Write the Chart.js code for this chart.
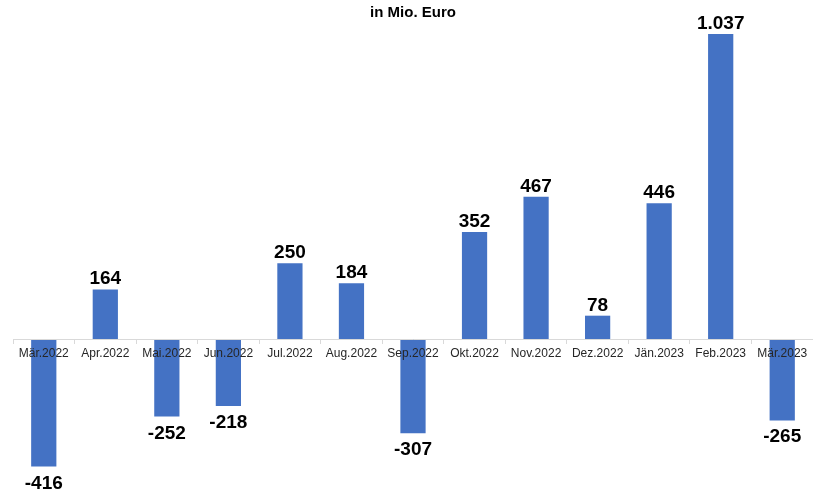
<!DOCTYPE html>
<html lang="de">

<head>
  <meta charset="UTF-8">
  <title>in Mio. Euro</title>
  <script src="https://cdn.jsdelivr.net/npm/chart.js"></script>
  <style>
    body {
      margin: 0;
      background: #fff;
    }

    #chartBox {
      width: 813px;
      height: 489px;
    }
  </style>
</head>

<body>
  <div id="chartBox">
    <canvas id="saldoCanvas"></canvas>
  </div>

  <script>
    const monate = ["Mär.2022", "Apr.2022", "Mai.2022", "Jun.2022", "Jul.2022", "Aug.2022", "Sep.2022",
      "Okt.2022", "Nov.2022", "Dez.2022", "Jän.2023", "Feb.2023", "Mär.2023"];
    const werte = [-416, 164, -252, -218, 250, 184, -307, 352, 467, 78, 446, 1037, -265];
    const titel = "in Mio. Euro";

    // 1037 -> "1.037"
    function formatDe(v) {
      const s = String(Math.abs(v)).replace(/\B(?=(\d{3})+(?!\d))/g, ".");
      return (v < 0 ? "-" : "") + s;
    }

    const wertLabels = {
      id: "wertLabels",
      afterDatasetsDraw(chart) {
        const ctx = chart.ctx;
        const area = chart.chartArea;
        const meta = chart.getDatasetMeta(0);
        ctx.save();
        ctx.font = "bold 19px Arial, 'Liberation Sans', sans-serif";
        ctx.fillStyle = "#000";
        ctx.textAlign = "center";
        ctx.textBaseline = "alphabetic";
        meta.data.forEach((bar, i) => {
          const v = werte[i];
          if (v >= 0) {
            const top = Math.max(bar.y, area.top);
            ctx.fillText(formatDe(v), bar.x, top - 5);
          } else {
            ctx.fillText(formatDe(v), bar.x, bar.y + 22);
          }
        });
        ctx.restore();
      }
    };

    new Chart(document.getElementById("saldoCanvas"), {
      type: "bar",
      data: {
        labels: monate,
        datasets: [{
          data: werte,
          backgroundColor: "#4472C4",
          borderWidth: 0,
          categoryPercentage: 1,
          barPercentage: 0.41
        }]
      },
      options: {
        animation: false,
        responsive: true,
        maintainAspectRatio: false,
        layout: {
          padding: { left: 13, right: 0, top: 0, bottom: 12 }
        },
        scales: {
          x: {
            position: { y: 0 },
            grid: {
              offset: true,
              drawOnChartArea: false,
              drawTicks: true,
              tickLength: 4,
              color: "#d9d9d9"
            },
            border: { color: "#d9d9d9", z: 1 },
            ticks: {
              z: 1,
              padding: 3,
              color: "#262626",
              font: { family: "Arial, 'Liberation Sans', sans-serif", size: 12 },
              maxRotation: 0,
              autoSkip: false
            }
          },
          y: {
            display: false,
            min: -450,
            max: 1000
          }
        },
        plugins: {
          legend: { display: false },
          tooltip: { enabled: false },
          title: {
            display: true,
            text: titel,
            color: "#000",
            font: { family: "Arial, 'Liberation Sans', sans-serif", size: 15, weight: "bold" },
            padding: { top: 4, bottom: 12 }
          }
        }
      },
      plugins: [wertLabels]
    });
  </script>
</body>

</html>
